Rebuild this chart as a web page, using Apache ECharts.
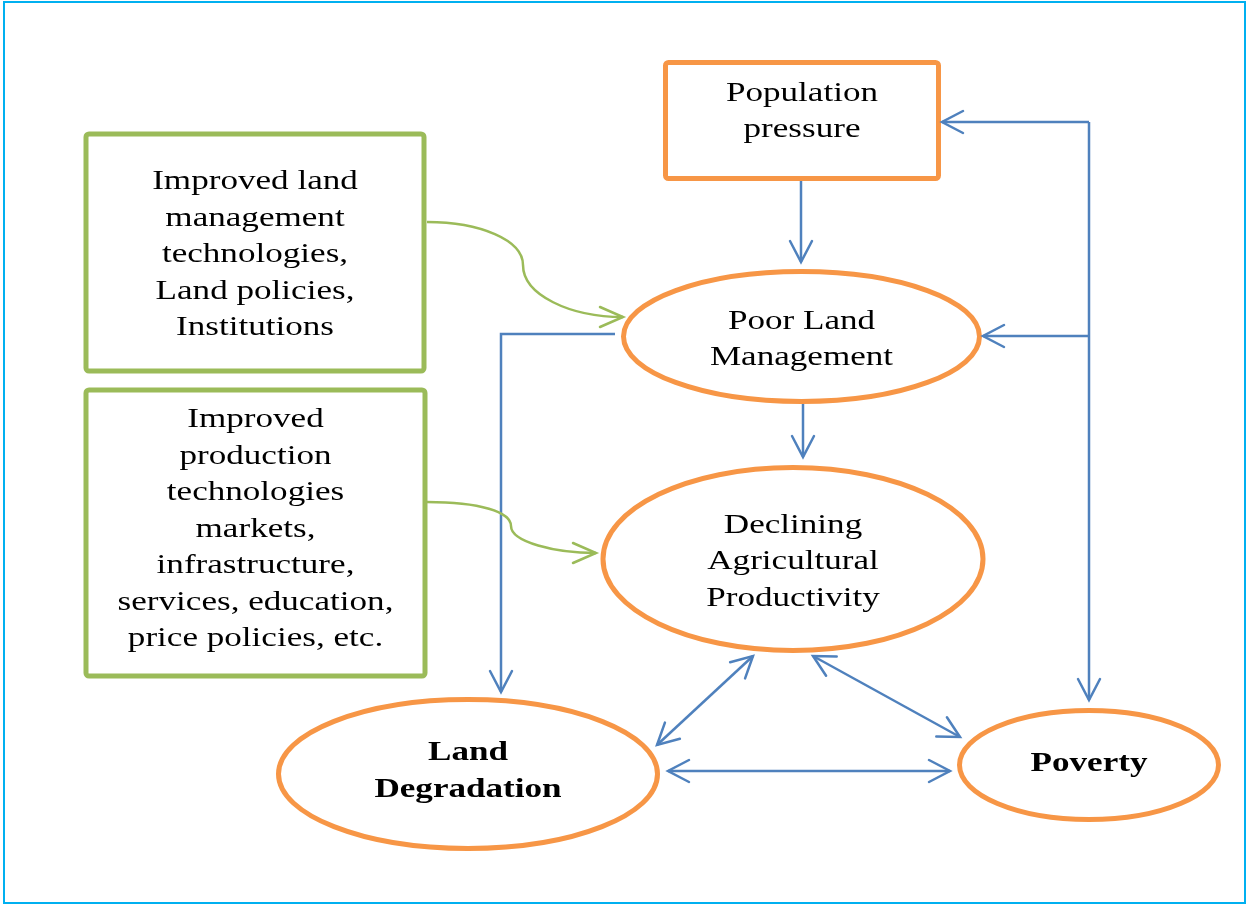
<!DOCTYPE html>
<html><head><meta charset="utf-8">
<script src="https://cdn.jsdelivr.net/npm/echarts@6/dist/echarts.min.js"></script>
<style>html,body{margin:0;padding:0;background:#fff}#c{width:1247px;height:905px}</style>
</head><body><div id="c"></div>
<script>
// ---- Nodes (diagram coordinates in axis units) ----
const nodeLines = [
  ['Population', 'pressure'],
  ['Poor Land', 'Management'],
  ['Declining', 'Agricultural', 'Productivity'],
  ['Land', 'Degradation'],
  ['Poverty'],
  ['Improved land', 'management', 'technologies,', 'Land policies,', 'Institutions'],
  ['Improved', 'production', 'technologies', 'markets,', 'infrastructure,', 'services, education,', 'price policies, etc.']
];
const nodeShape = ['rect', 'ellipse', 'ellipse', 'ellipse', 'ellipse', 'rect', 'rect'];
const nodeKind  = ['driver', 'core', 'core', 'core', 'core', 'policy', 'policy'];
const nodeBold  = [false, false, false, true, true, false, false];
const nodeCX = [802, 801.5, 793, 468, 1089, 255, 255.5];
const nodeCY = [120.5, 336.5, 559, 774, 765, 252.5, 533];
const nodeHW = [136.5, 178, 190, 189.5, 129.5, 169, 169.5];
const nodeHH = [58, 65, 91.5, 74.5, 54.5, 118.5, 143];
const labelCY = [112, 340, 562, 771.5, 764.5, 255, 529.5];

// ---- Blue connectors (polylines) ----
const linkPaths = [
  [[801, 181], [801, 262]],
  [[803, 404], [803, 457]],
  [[615, 334], [501, 334], [501, 692]],
  [[1089, 122], [1089, 700]],
  [[1089, 122], [942, 122]],
  [[1089, 336], [983, 336]],
  [[657, 745], [753, 656]],
  [[813, 656], [960, 737]],
  [[668, 771], [950, 771]]
];
const linkHeads = ['end', 'end', 'end', 'end', 'end', 'end', 'both', 'both', 'both'];

// ---- Green curved connectors (two cubic segments each) ----
const curvePts = [
  [[427, 222], [480, 222], [523, 240], [523, 265], [523, 295], [570, 317], [623, 317]],
  [[427, 502], [480, 502], [511, 512], [511, 526], [511, 542], [555, 553], [596, 553]]
];

const ORANGE = '#f79646', GREEN = '#9bbb59', BLUE = '#4f81bd';
const FONT_FAMILY = '"Liberation Serif", "Times New Roman", serif';

function arrowHead(tip, from, L, W, color, lw) {
  const dx = tip[0] - from[0], dy = tip[1] - from[1];
  const len = Math.sqrt(dx * dx + dy * dy) || 1;
  const ux = dx / len, uy = dy / len;
  const nx = -uy, ny = ux;
  const bx = tip[0] - ux * L, by = tip[1] - uy * L;
  return {
    type: 'polyline',
    shape: { points: [[bx + nx * W, by + ny * W], tip, [bx - nx * W, by - ny * W]] },
    style: { stroke: color, lineWidth: lw, fill: 'none', lineCap: 'round', lineJoin: 'miter' }
  };
}

function renderNode(params, api) {
  const i = api.value(2);
  const c = api.coord([nodeCX[i], nodeCY[i]]);
  const s = api.size([nodeHW[i], nodeHH[i]]);
  const color = nodeKind[i] === 'policy' ? GREEN : ORANGE;
  const children = [];
  if (nodeShape[i] === 'ellipse') {
    children.push({ type: 'ellipse', shape: { cx: c[0], cy: c[1], rx: s[0], ry: s[1] },
      style: { fill: '#fff', stroke: color, lineWidth: 5 } });
  } else {
    children.push({ type: 'rect', shape: { x: c[0] - s[0], y: c[1] - s[1], width: 2 * s[0], height: 2 * s[1], r: 3 },
      style: { fill: '#fff', stroke: color, lineWidth: 5 } });
  }
  const lines = nodeLines[i];
  const n = lines.length;
  const ly = api.coord([nodeCX[i], labelCY[i]])[1];
  const LH = 36.5;
  lines.forEach((t, k) => {
    children.push({
      type: 'text', x: c[0], y: ly + (k - (n - 1) / 2) * LH, scaleX: 1.3, scaleY: 1,
      style: { text: t, x: 0, y: 0, align: 'center', verticalAlign: 'middle',
        font: (nodeBold[i] ? 'bold ' : '') + '27px ' + FONT_FAMILY, fill: '#000' }
    });
  });
  return { type: 'group', children };
}

function renderLink(params, api) {
  const i = api.value(2);
  const pts = linkPaths[i].map(p => api.coord(p));
  const children = [{ type: 'polyline', shape: { points: pts },
    style: { stroke: BLUE, lineWidth: 2.5, fill: 'none' } }];
  const m = pts.length;
  children.push(arrowHead(pts[m - 1], pts[m - 2], 21, 11, BLUE, 2.5));
  if (linkHeads[i] === 'both') children.push(arrowHead(pts[0], pts[1], 21, 11, BLUE, 2.5));
  return { type: 'group', children };
}

function renderCurve(params, api) {
  const i = api.value(2);
  const p = curvePts[i].map(q => api.coord(q));
  const st = { stroke: GREEN, lineWidth: 2.5, fill: 'none' };
  return { type: 'group', children: [
    { type: 'bezierCurve', shape: { x1: p[0][0], y1: p[0][1], cpx1: p[1][0], cpy1: p[1][1], cpx2: p[2][0], cpy2: p[2][1], x2: p[3][0], y2: p[3][1] }, style: st },
    { type: 'bezierCurve', shape: { x1: p[3][0], y1: p[3][1], cpx1: p[4][0], cpy1: p[4][1], cpx2: p[5][0], cpy2: p[5][1], x2: p[6][0], y2: p[6][1] }, style: st },
    arrowHead(p[6], p[5], 23, 10, GREEN, 2.5)
  ] };
}

const chart = echarts.init(document.getElementById('c'), null, { renderer: 'canvas' });
chart.setOption({
  backgroundColor: '#fff',
  animation: false,
  grid: { left: 4, right: 2, top: 2, bottom: 2, show: true, borderColor: '#00b0f0', borderWidth: 2, backgroundColor: '#fff' },
  xAxis: { type: 'value', min: 4, max: 1245, show: false },
  yAxis: { type: 'value', min: 2, max: 903, inverse: true, show: false },
  series: [
    { type: 'custom', name: 'nodes', renderItem: renderNode, z: 2,
      data: nodeCX.map((x, i) => [x, nodeCY[i], i]) },
    { type: 'custom', name: 'links', renderItem: renderLink, z: 3,
      data: linkPaths.map((p, i) => [p[0][0], p[0][1], i]) },
    { type: 'custom', name: 'curves', renderItem: renderCurve, z: 3,
      data: curvePts.map((p, i) => [p[0][0], p[0][1], i]) }
  ]
});
</script></body></html>
